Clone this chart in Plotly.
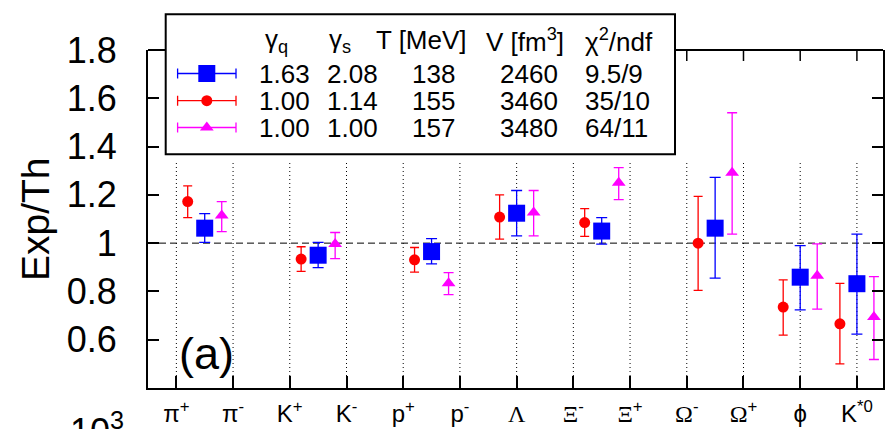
import plotly.graph_objects as go

# ---------------- data ----------------
particles = ["π+", "π-", "K+", "K-", "p+", "p-", "Λ", "Ξ-", "Ξ+", "Ω-", "Ω+", "φ", "K*0"]
SERIF_SPAN = "<span style=\"font-family:'Liberation Serif'\">{}</span>"
tick_text = ["π<sup>+</sup>", "π<sup>-</sup>", "K<sup>+</sup>", "K<sup>-</sup>",
             "p<sup>+</sup>", "p<sup>-</sup>", SERIF_SPAN.format("Λ"),
             SERIF_SPAN.format("Ξ") + "<sup>-</sup>", SERIF_SPAN.format("Ξ") + "<sup>+</sup>",
             SERIF_SPAN.format("Ω") + "<sup>-</sup>", SERIF_SPAN.format("Ω") + "<sup>+</sup>",
             "ϕ", "K<sup>*0</sup>"]
# each measured ratio belongs to one or two particle categories
groups = [["π+", "π-"], ["K+", "K-"], ["p+", "p-"], ["Λ"], ["Ξ-", "Ξ+"],
          ["Ω-", "Ω+"], ["φ"], ["K*0"]]

y_ticks = [0.6, 0.8, 1.0, 1.2, 1.4, 1.6, 1.8]
y_tick_text = ["0.6", "0.8", "1", "1.2", "1.4", "1.6", "1.8"]

# fit 1 (blue squares): gamma_q = 1.63
blue_val = [1.062, 0.950, 0.965, 1.124, 1.050, 1.062, 0.859, 0.832]
blue_hi = [1.122, 1.003, 1.019, 1.218, 1.106, 1.272, 0.990, 1.037]
blue_lo = [1.003, 0.899, 0.914, 1.030, 0.996, 0.855, 0.724, 0.623]

# fit 2 (red circles)
red_val = [1.172, 0.934, 0.931, 1.108, 1.085, 1.000, 0.735, 0.666]
red_hi = [1.237, 0.985, 0.982, 1.200, 1.143, 1.194, 0.848, 0.833]
red_lo = [1.106, 0.883, 0.880, 1.017, 1.028, 0.804, 0.619, 0.500]

# fit 3 (magenta triangles)
mag_val = [1.115, 0.996, 0.834, 1.127, 1.250, 1.292, 0.865, 0.694]
mag_hi = [1.172, 1.044, 0.878, 1.218, 1.313, 1.540, 0.997, 0.861]
mag_lo = [1.048, 0.936, 0.787, 1.030, 1.180, 1.037, 0.727, 0.518]

# legend table
gamma_q = ["1.63", "1.00", "1.00"]
gamma_s = ["2.08", "1.14", "1.00"]
temp = ["138", "155", "157"]
volume = ["2460", "3460", "3480"]
chi2 = ["9.5/9", "35/10", "64/11"]

# ---------------- layout geometry ----------------
W, H = 886, 429
ML, MR, MT, MB = 148, 3, 50, 41
PX0, PX1, PY0, PY1 = ML, W - MR, MT, H - MB


def px(x):
    return (x - PX0) / (PX1 - PX0)


def py(y):
    return (PY1 - y) / (PY1 - PY0)


idx = {p: i for i, p in enumerate(particles)}
gx = [sum(idx[p] for p in g) / len(g) for g in groups]

SANS = "Liberation Sans, Arial, sans-serif"
BLUE, RED, MAG = "#0000ff", "#ff0000", "#ff00ff"

fig = go.Figure()


def add_series(vals, hi, lo, offset, color, symbol, size, capw):
    fig.add_trace(go.Scatter(
        x=[g + offset for g in gx], y=vals, mode="markers",
        marker=dict(color=color, symbol=symbol, size=size, line=dict(width=0)),
        error_y=dict(type="data", symmetric=False,
                     array=[h - v for h, v in zip(hi, vals)],
                     arrayminus=[v - l for v, l in zip(vals, lo)],
                     color=color, thickness=1.3, width=capw),
        showlegend=False, cliponaxis=False))


add_series(red_val, red_hi, red_lo, -0.3, RED, "circle", 11, 4.5)
add_series(blue_val, blue_hi, blue_lo, 0.0, BLUE, "square", 17, 5.5)
add_series(mag_val, mag_hi, mag_lo, 0.3, MAG, "triangle-up", 12, 5)

shapes = []
# dotted category lines
for i in range(len(particles)):
    shapes.append(dict(type="line", xref="x", yref="y", x0=i, x1=i, y0=0.4, y1=1.34,
                       line=dict(color="black", width=1, dash="1px,3px"), layer="below"))
# dashed line at unity
shapes.append(dict(type="line", xref="paper", yref="y", x0=0, x1=1, y0=1, y1=1,
                   line=dict(color="black", width=1, dash="7px,4px"), layer="below"))
# top border + top ticks
shapes.append(dict(type="line", xref="paper", yref="paper", x0=0, x1=1, y0=1, y1=1,
                   line=dict(color="black", width=2), layer="below"))
for i in range(len(particles)):
    shapes.append(dict(type="line", xref="x", yref="paper", x0=i, x1=i, y0=1,
                       y1=1 - 11 / (PY1 - PY0), line=dict(color="black", width=1.5),
                       layer="below"))
# legend box
shapes.append(dict(type="rect", xref="paper", yref="paper",
                   x0=px(165.7), x1=px(675), y0=py(154.3), y1=py(14.3),
                   fillcolor="white", line=dict(color="black", width=2), layer="below"))

annotations = []
# legend header
hdr = [("γ<sub>q</sub>", 276, "center"), ("γ<sub>s</sub>", 339.6, "center"),
       ("T [MeV]", 421, "center"), ("V [fm<sup>3</sup>]", 525, "center"),
       ("χ<sup>2</sup>/ndf", 583, "left")]
for txt, x, anc in hdr:
    annotations.append(dict(text=txt, x=px(x), y=py(40), xref="paper", yref="paper",
                            xanchor=anc, yanchor="middle", showarrow=False,
                            font=dict(family=SANS, size=26, color="black")))
rows_y = [74, 101, 128]
cols = [(gamma_q, 284, "center"), (gamma_s, 352.6, "center"), (temp, 433, "center"),
        (volume, 528.6, "center"), (chi2, 583, "left")]
for col, x, anc in cols:
    for r, txt in enumerate(col):
        annotations.append(dict(text=txt, x=px(x), y=py(rows_y[r]), xref="paper",
                                yref="paper", xanchor=anc, yanchor="middle",
                                showarrow=False,
                                font=dict(family=SANS, size=26, color="black")))

# legend samples on an overlay axis in pixel units
for (color, symbol, size), yrow in zip([(BLUE, "square", 17), (RED, "circle", 11),
                                        (MAG, "triangle-up", 12)], [73.5, 100.7, 127.5]):
    fig.add_trace(go.Scatter(
        x=[206.8], y=[yrow], xaxis="x2", yaxis="y2", mode="markers",
        marker=dict(color=color, symbol=symbol, size=size, line=dict(width=0)),
        error_x=dict(type="constant", value=29.2, color=color, thickness=1.3, width=5),
        showlegend=False, cliponaxis=False))

# y title and panel label
annotations.append(dict(text="Exp/Th", x=px(35), y=0.5, xref="paper", yref="paper",
                        xanchor="center", yanchor="middle", textangle=-90,
                        showarrow=False, font=dict(family=SANS, size=39, color="black")))
annotations.append(dict(text="(a)", x=px(177), y=py(353), xref="paper", yref="paper",
                        xanchor="left", yanchor="middle", showarrow=False,
                        font=dict(family=SANS, size=45, color="black")))
# partially visible label of the panel below
annotations.append(dict(text="10<sup>3</sup>", x=px(126), y=py(404), xref="paper",
                        yref="paper", xanchor="right", yanchor="top", showarrow=False,
                        font=dict(family=SANS, size=36, color="black")))

fig.update_layout(
    width=W, height=H, margin=dict(l=ML, r=MR, t=MT, b=MB, pad=0, autoexpand=False),
    paper_bgcolor="white", plot_bgcolor="white",
    shapes=shapes, annotations=annotations, showlegend=False,
    xaxis=dict(range=[-0.5, 12.46], tickmode="array", tickvals=list(range(len(particles))),
               ticktext=tick_text, ticks="inside", ticklen=12, tickwidth=1.5,
               tickcolor="black", showline=True, linewidth=2, linecolor="black",
               mirror=False, showgrid=False, zeroline=False, ticklabelstandoff=3,
               automargin=False,
               tickfont=dict(family=SANS, size=24, color="black")),
    yaxis=dict(range=[0.4, 1.8], tickmode="array", tickvals=y_ticks, ticktext=y_tick_text,
               ticks="inside", ticklen=11, tickwidth=1.5, tickcolor="black",
               showline=True, linewidth=2, linecolor="black", mirror="ticks",
               showgrid=False, zeroline=False, ticklabelstandoff=22, automargin=False,
               tickfont=dict(family=SANS, size=36, color="black")),
    xaxis2=dict(overlaying="x", anchor="y2", range=[PX0, PX1], visible=False,
                showgrid=False, zeroline=False, automargin=False),
    yaxis2=dict(overlaying="y", anchor="x2", range=[PY1, PY0], visible=False,
                showgrid=False, zeroline=False, automargin=False),
)

fig.write_html("out.html", config={"displayModeBar": False},
               post_script="document.body.style.margin='0';document.body.style.overflow='hidden';")
